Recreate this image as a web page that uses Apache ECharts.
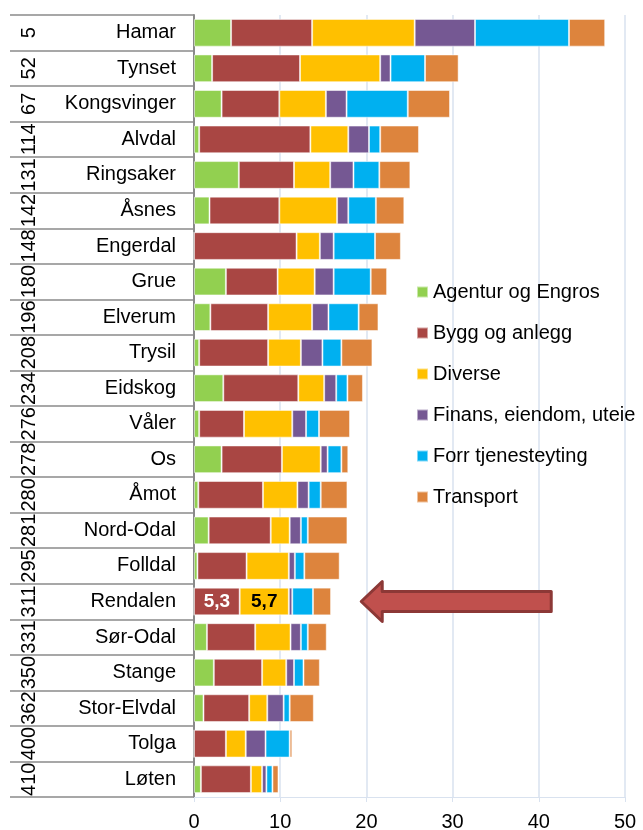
<!DOCTYPE html>
<html>
<head>
<meta charset="utf-8">
<title>Hedmark kommuner</title>
<script src="https://cdn.jsdelivr.net/npm/echarts@6/dist/echarts.min.js"></script>
<style>
  html, body { margin: 0; padding: 0; background: #fff; }
  #chart { width: 643px; height: 830px; }
</style>
</head>
<body>
<div id="chart"></div>
<script>
  // kommuner, ovenfra og ned
  const kommuner = ['Hamar', 'Tynset', 'Kongsvinger', 'Alvdal', 'Ringsaker', 'Åsnes', 'Engerdal', 'Grue',
    'Elverum', 'Trysil', 'Eidskog', 'Våler', 'Os', 'Åmot', 'Nord-Odal', 'Folldal', 'Rendalen',
    'Sør-Odal', 'Stange', 'Stor-Elvdal', 'Tolga', 'Løten'];
  const rangering = ['5', '52', '67', '114', '131', '142', '148', '180', '196', '208', '234', '276', '278',
    '280', '281', '295', '311', '331', '350', '362', '400', '410'];

  const agentur = [4.3, 2.1, 3.2, 0.6, 5.2, 1.8, 0, 3.7, 1.9, 0.6, 3.4, 0.6, 3.2, 0.5, 1.7, 0.4, 0, 1.5, 2.3, 1.1, 0, 0.8];
  const bygg = [9.4, 10.2, 6.7, 12.9, 6.4, 8.1, 11.9, 6.0, 6.7, 8.0, 8.7, 5.2, 7.0, 7.5, 7.2, 5.7, 5.3, 5.6, 5.6, 5.3, 3.7, 5.8];
  const diverse = [11.9, 9.3, 5.4, 4.4, 4.2, 6.7, 2.7, 4.3, 5.1, 3.8, 3.0, 5.6, 4.5, 4.0, 2.2, 4.9, 5.7, 4.1, 2.8, 2.1, 2.3, 1.3];
  const finans = [7.0, 1.2, 2.4, 2.4, 2.7, 1.3, 1.6, 2.2, 1.9, 2.5, 1.4, 1.6, 0.8, 1.3, 1.3, 0.7, 0.4, 1.2, 0.9, 1.9, 2.3, 0.5];
  const forr = [10.9, 4.0, 7.1, 1.3, 3.0, 3.2, 4.8, 4.3, 3.5, 2.2, 1.3, 1.5, 1.6, 1.4, 0.8, 1.1, 2.4, 0.8, 1.1, 0.7, 2.8, 0.7];
  const transport = [4.2, 3.9, 4.9, 4.5, 3.6, 3.3, 3.0, 1.9, 2.3, 3.6, 1.8, 3.6, 0.8, 3.1, 4.6, 4.1, 2.1, 2.2, 1.9, 2.8, 0.3, 0.7];

  const bransjer = ['Agentur og Engros', 'Bygg og anlegg', 'Diverse', 'Finans, eiendom, uteie', 'Forr tjenesteyting', 'Transport'];
  const verdier = [agentur, bygg, diverse, finans, forr, transport];
  const farger = ['#92d050', '#a94643', '#ffc000', '#755893', '#00b0f0', '#dd843d'];
  const fremhevet = 'Rendalen';

  const font = '"Liberation Sans", Arial, sans-serif';
  const chart = echarts.init(document.getElementById('chart'), null, { renderer: 'canvas' });

  const series = bransjer.map((navn, i) => ({
    name: navn,
    type: 'bar',
    stack: 'sum',
    barCategoryGap: '22%',
    itemStyle: { color: farger[i], borderColor: 'rgba(255,255,255,0.5)', borderWidth: 1 },
    data: verdier[i].map((v, k) => {
      if (kommuner[k] === fremhevet && (i === 1 || i === 2)) {
        return {
          value: v,
          label: {
            show: true,
            formatter: p => String(p.value).replace('.', ','),
            color: i === 1 ? '#fff' : '#000',
            fontWeight: 'bold',
            fontSize: 19,
            fontFamily: font
          }
        };
      }
      return v;
    })
  }));

  const option = {
    animation: false,
    textStyle: { fontFamily: font },
    grid: { left: 194, right: 18, top: 15, bottom: 33, outerBoundsMode: 'none' },
    legend: {
      orient: 'vertical',
      left: 411,
      top: 277,
      icon: 'rect',
      itemWidth: 11,
      itemHeight: 11,
      itemGap: 21,
      textStyle: { fontSize: 20, color: '#000', fontFamily: font },
      data: bransjer
    },
    xAxis: {
      type: 'value',
      min: 0,
      max: 50,
      interval: 10,
      axisLine: { show: true, lineStyle: { color: '#d9e2ef', width: 1 } },
      axisTick: { show: true, length: 5, lineStyle: { color: '#d9e2ef' } },
      splitLine: { show: true, lineStyle: { color: '#d9e2ef', width: 1.5 } },
      axisLabel: { fontSize: 20, color: '#000', margin: 15, fontFamily: font }
    },
    yAxis: [
      {
        type: 'category',
        inverse: true,
        data: kommuner,
        axisLine: { show: true, lineStyle: { color: '#8a8a8a', width: 2 } },
        axisTick: { show: true, length: 184, lineStyle: { color: '#8a8a8a', width: 1.5 } },
        axisLabel: { fontSize: 20, color: '#000', margin: 18, fontFamily: font }
      },
      {
        type: 'category',
        inverse: true,
        position: 'left',
        data: rangering,
        axisLine: { show: false },
        axisTick: { show: false },
        axisLabel: { fontSize: 20, color: '#000', rotate: 90, margin: 155, interval: 0, hideOverlap: false, fontFamily: font }
      }
    ],
    series: series
  };
  chart.setOption(option);

  // pil som peker mot den fremhevede kommunen
  const tupp = chart.convertToPixel({ xAxisIndex: 0, yAxisIndex: 0 }, [19.4, kommuner.indexOf(fremhevet)]);
  const x0 = tupp[0], y0 = tupp[1];
  chart.setOption({
    graphic: [{
      type: 'polygon',
      shape: {
        points: [
          [x0, y0], [x0 + 21, y0 - 20], [x0 + 21, y0 - 10], [x0 + 190, y0 - 10],
          [x0 + 190, y0 + 10], [x0 + 21, y0 + 10], [x0 + 21, y0 + 20]
        ]
      },
      style: { fill: '#c0504d', stroke: '#8c3836', lineWidth: 3, lineJoin: 'round' },
      z: 100
    }]
  });
</script>
</body>
</html>
